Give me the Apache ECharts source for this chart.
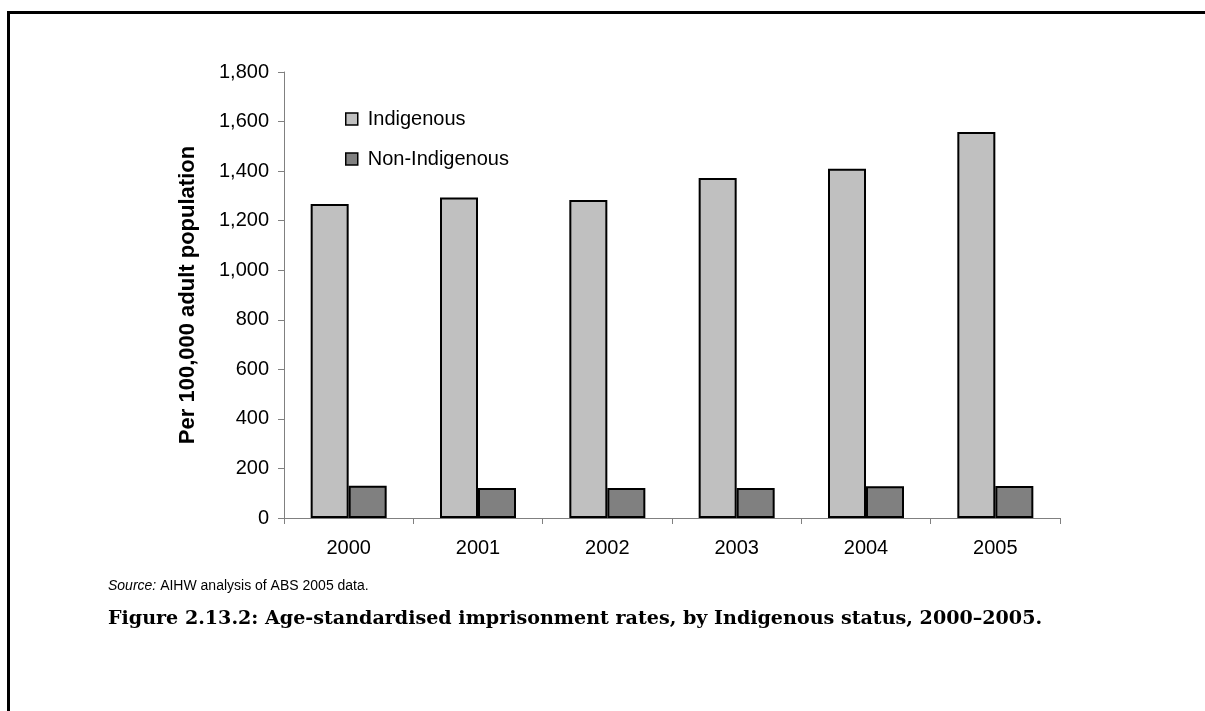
<!DOCTYPE html>
<html>
<head>
<meta charset="utf-8">
<script src="https://cdn.jsdelivr.net/npm/echarts@6/dist/echarts.min.js"></script>
<style>
  html, body { margin: 0; padding: 0; background: #fff; }
  #frame { position: absolute; left: 7px; top: 11px; width: 1198px; height: 700px;
           border-top: 3px solid #000; border-left: 3px solid #000; box-sizing: border-box; }
  #chart { position: absolute; left: 0; top: 0; width: 1205px; height: 711px; }
</style>
</head>
<body>
<div id="frame"></div>
<div id="chart"></div>
<script>
// data
const years = ['2000', '2001', '2002', '2003', '2004', '2005'];
const indigenous = [1267, 1293, 1283, 1372, 1410, 1558];
const nonIndigenous = [130, 121, 121, 121, 128, 129];

const chart = echarts.init(document.getElementById('chart'));

const option = {
    animation: false,
    title: [
        {
            text: '{i|Source:} AIHW analysis of ABS 2005 data.',
            left: 108,
            top: 579,
            padding: 0,
            textStyle: {
                fontFamily: 'Liberation Sans',
                fontSize: 14,
                fontWeight: 'normal',
                color: '#000',
                rich: {
                    i: { fontFamily: 'Liberation Sans', fontSize: 14, fontStyle: 'italic', color: '#000' }
                }
            }
        },
        {
            text: 'Figure 2.13.2: Age-standardised imprisonment rates, by Indigenous status, 2000\u20132005.',
            left: 108,
            top: 610,
            padding: 0,
            textStyle: {
                fontFamily: 'DejaVu Serif',
                fontSize: 19.1,
                fontWeight: 'bold',
                color: '#000'
            }
        }
    ],
    legend: {
        orient: 'vertical',
        left: 340,
        top: 104,
        icon: 'rect',
        itemWidth: 12,
        itemHeight: 12,
        itemGap: 20,
        itemStyle: { borderColor: '#000', borderWidth: 1.5 },
        textStyle: { fontFamily: 'Liberation Sans', fontSize: 20, color: '#000', padding: [0, 0, 0, 5] },
        data: ['Indigenous', 'Non-Indigenous']
    },
    grid: { left: 284, right: 145, top: 72, bottom: 193 },
    xAxis: {
        type: 'category',
        data: years,
        axisLine: { lineStyle: { color: '#808080', width: 1 } },
        axisTick: { show: true, length: 6, lineStyle: { color: '#808080' } },
        axisLabel: { fontFamily: 'Liberation Sans', fontSize: 20, color: '#000', margin: 20 }
    },
    yAxis: {
        type: 'value',
        min: 0,
        max: 1800,
        interval: 200,
        name: 'Per 100,000 adult population',
        nameLocation: 'middle',
        nameGap: 85,
        nameTextStyle: { fontFamily: 'Liberation Sans', fontSize: 22, fontWeight: 'bold', color: '#000' },
        axisLine: { show: true, lineStyle: { color: '#808080', width: 1 } },
        axisTick: { show: true, length: 6, lineStyle: { color: '#808080' } },
        splitLine: { show: false },
        axisLabel: {
            fontFamily: 'Liberation Sans',
            fontSize: 20,
            color: '#000',
            margin: 15,
            formatter: v => v.toLocaleString('en-US')
        }
    },
    series: [
        {
            name: 'Indigenous',
            type: 'bar',
            data: indigenous,
            barWidth: 38,
            barGap: '0%',
            itemStyle: { color: '#C0C0C0', borderColor: '#000', borderWidth: 2 }
        },
        {
            name: 'Non-Indigenous',
            type: 'bar',
            data: nonIndigenous,
            barWidth: 38,
            barGap: '0%',
            itemStyle: { color: '#808080', borderColor: '#000', borderWidth: 2 }
        }
    ]
};

chart.setOption(option);
</script>
</body>
</html>
